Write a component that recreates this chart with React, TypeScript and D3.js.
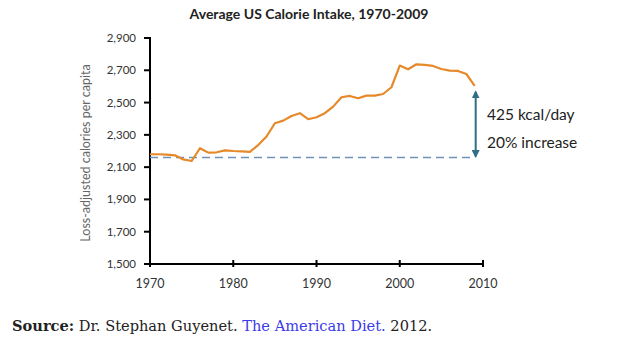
import React from "react";
import * as d3 from "d3";

const years: number[] = d3.range(1970, 2010);
const calories: number[] = [
  2180, 2180, 2178, 2173, 2148, 2138, 2217, 2190, 2192, 2204,
  2200, 2198, 2194, 2237, 2290, 2372, 2388, 2417, 2434, 2397,
  2409, 2434, 2475, 2533, 2541, 2527, 2543, 2543, 2553, 2595,
  2729, 2706, 2737, 2733, 2727, 2708, 2698, 2696, 2677, 2603,
];
const baseline = 2160;
const yTicks: number[] = [1500, 1700, 1900, 2100, 2300, 2500, 2700, 2900];
const xTicks: number[] = [1970, 1980, 1990, 2000, 2010];
const title = "Average US Calorie Intake, 1970-2009";
const yLabel = "Loss-adjusted calories per capita";
const annot1 = "425 kcal/day";
const annot2 = "20% increase";

export default function App() {
  const W = 621, H = 349;
  const x = d3.scaleLinear().domain([1970, 2010]).range([150, 483]);
  const y = d3.scaleLinear().domain([1500, 2900]).range([264, 38]);
  const line = d3.line<number>().x((_, i) => x(years[i])).y((d) => y(d));
  const fmt = d3.format(",");
  const lastX = x(years[years.length - 1]);
  const lastY = y(calories[calories.length - 1]);
  const baseY = y(baseline);
  const font = "Lato, 'Open Sans', sans-serif";
  const arrowColor = "#2f6e86";
  return (
    <svg width={W} height={H} style={{ position: "absolute", left: 0, top: 0, background: "#fff" }}>
      <defs>
        <marker id="ah" viewBox="0 0 10 10" refX="8" refY="5" markerWidth="4" markerHeight="4" orient="auto-start-reverse">
          <path d="M0,0 L10,5 L0,10 z" fill={arrowColor} />
        </marker>
      </defs>
      <text x={309} y={19} textAnchor="middle" fontFamily={font} fontWeight="bold" fontSize={14} fill="#222">{title}</text>
      <text transform={`translate(90,153) rotate(-90)`} textAnchor="middle" fontFamily={font} fontSize={12.5} fill="#666">{yLabel}</text>
      {yTicks.map((t) => (
        <g key={t}>
          <line x1={144} x2={150} y1={y(t)} y2={y(t)} stroke="#000" strokeWidth={2} />
          <text x={136} y={y(t) + 4} textAnchor="end" fontFamily={font} fontSize={11.5} fill="#333">{fmt(t)}</text>
        </g>
      ))}
      {xTicks.map((t) => (
        <g key={t}>
          <line x1={x(t)} x2={x(t)} y1={260} y2={267} stroke="#000" strokeWidth={2} />
          <text x={x(t)} y={288} textAnchor="middle" fontFamily={font} fontSize={12.5} fill="#333">{t}</text>
        </g>
      ))}
      <line x1={150} x2={150} y1={37} y2={265} stroke="#000" strokeWidth={2} />
      <line x1={149} x2={484} y1={264} y2={264} stroke="#000" strokeWidth={2} />
      <line x1={150} x2={lastX} y1={baseY} y2={baseY} stroke="#6f93b8" strokeWidth={1.6} strokeDasharray="8,5" />
      <path d={line(calories) || ""} fill="none" stroke="#e6892a" strokeWidth={2.2} strokeLinejoin="round" />
      <line x1={lastX + 1} x2={lastX + 1} y1={lastY + 6} y2={baseY - 1} stroke={arrowColor} strokeWidth={2} markerStart="url(#ah)" markerEnd="url(#ah)" />
      <text x={487} y={120} fontFamily={font} fontSize={15.5} fill="#222">{annot1}</text>
      <text x={487} y={148} fontFamily={font} fontSize={15.5} fill="#222">{annot2}</text>
      <text x={12} y={331} fontFamily="'DejaVu Serif', Georgia, serif" fontSize={14.6} fill="#222">
        <tspan fontWeight="bold">Source:</tspan>
        <tspan> Dr. Stephan Guyenet. </tspan>
        <tspan fill="#3b3bea">The American Diet.</tspan>
        <tspan> 2012.</tspan>
      </text>
    </svg>
  );
}
